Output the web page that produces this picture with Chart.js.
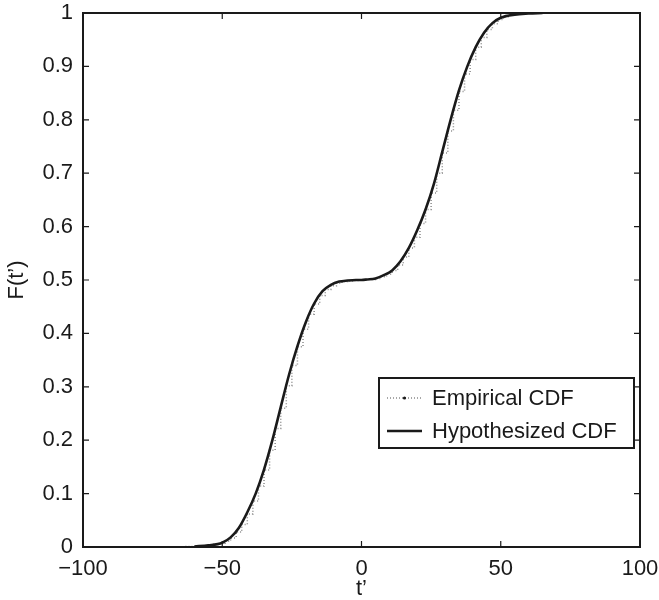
<!DOCTYPE html>
<html><head><meta charset="utf-8">
<script src="https://cdn.jsdelivr.net/npm/chart.js@4"></script>
<style>html,body{margin:0;padding:0;background:#fff}#wrap{width:659px;height:600px}</style>
</head><body><div id="wrap"><canvas id="c" width="659" height="600"></canvas></div>
<script>
// ---- data ----
const hypT = [-60,-55,-50,-47,-44,-41,-38,-35,-32,-29,-26,-23,-20,-17,-14,-11,-8,-5,-2,0,2,5,8,11,14,17,20,23,26,29,32,35,38,41,44,47,50,55,60,65];
const hypF = [0.001,0.003,0.008,0.018,0.036,0.065,0.100,0.145,0.200,0.262,0.323,0.376,0.421,0.456,0.479,0.491,0.497,0.499,0.500,0.500,0.501,0.503,0.509,0.518,0.535,0.560,0.593,0.632,0.680,0.740,0.800,0.855,0.900,0.936,0.963,0.981,0.991,0.997,0.999,1.000];
const empT = [-77,-75,-73,-71,-69,-67,-65,-63,-61,-59,-57,-55,-53,-51,-49,-47,-45,-43,-41,-39,-37,-35,-33,-31,-29,-27,-25,-23,-21,-19,-17,-15,-13,-11,-9,-7,-5,-3,-1,1,3,5,7,9,11,13,15,17,19,21,23,25,27,29,31,33,35,37,39,41,43,45,47,49,51,53,55,57,59,61,63,65,67,69];
const empF = [0,0,0,0,0,0,0,0.001,0.001,0.001,0.002,0.003,0.005,0.007,0.011,0.017,0.028,0.042,0.062,0.086,0.114,0.144,0.181,0.222,0.260,0.302,0.340,0.375,0.408,0.436,0.455,0.471,0.482,0.489,0.494,0.497,0.498,0.499,0.500,0.501,0.501,0.503,0.506,0.511,0.518,0.528,0.543,0.560,0.580,0.606,0.632,0.663,0.700,0.738,0.779,0.818,0.853,0.886,0.913,0.936,0.954,0.969,0.980,0.988,0.993,0.996,0.998,0.999,0.999,1,1,1,1,1];
const xTicks = [-100,-50,0,50,100];
const yTicks = [0,0.1,0.2,0.3,0.4,0.5,0.6,0.7,0.8,0.9,1];
const seriesLabels = ['Empirical CDF','Hypothesized CDF'];
const xTitle = 't’';
const yTitle = 'F(t’)';

const FONT = '"Liberation Sans", Arial, Helvetica, sans-serif';
const INK = '#1a1a1a';

const toPts = (xs, ys) => xs.map((x, i) => ({x: x, y: ys[i]}));

const framePlugin = {
  id: 'frame',
  afterDraw(chart) {
    const ctx = chart.ctx;
    const a = chart.chartArea;
    const xs = chart.scales.x, ys = chart.scales.y;
    ctx.save();
    ctx.strokeStyle = INK;
    ctx.lineWidth = 2;
    ctx.strokeRect(a.left, a.top, a.right - a.left, a.bottom - a.top);
    ctx.lineWidth = 1.2;
    const tl = 6;
    ctx.beginPath();
    xTicks.forEach(v => {
      const px = xs.getPixelForValue(v);
      ctx.moveTo(px, a.bottom); ctx.lineTo(px, a.bottom - tl);
      ctx.moveTo(px, a.top); ctx.lineTo(px, a.top + tl);
    });
    yTicks.forEach(v => {
      const py = ys.getPixelForValue(v);
      ctx.moveTo(a.left, py); ctx.lineTo(a.left + tl, py);
      ctx.moveTo(a.right, py); ctx.lineTo(a.right - tl, py);
    });
    ctx.stroke();

    // legend box
    const bx = 379, by = 378, bw = 255, bh = 70;
    ctx.fillStyle = '#fff';
    ctx.fillRect(bx, by, bw, bh);
    ctx.lineWidth = 2;
    ctx.strokeStyle = INK;
    ctx.strokeRect(bx, by, bw, bh);
    const ds = chart.data.datasets;
    const rows = [398, 431];
    ds.forEach((d, i) => {
      const y = rows[i];
      ctx.save();
      ctx.strokeStyle = d.borderColor;
      ctx.lineWidth = d.borderWidth;
      ctx.setLineDash(d.borderDash || []);
      ctx.beginPath();
      ctx.moveTo(387, y); ctx.lineTo(422, y);
      ctx.stroke();
      if (i === 0) {
        ctx.setLineDash([]);
        ctx.fillStyle = INK;
        ctx.beginPath(); ctx.arc(404.5, y, 1.6, 0, Math.PI * 2); ctx.fill();
      }
      ctx.restore();
      ctx.fillStyle = INK;
      ctx.font = '22px ' + FONT;
      ctx.textBaseline = 'middle';
      ctx.textAlign = 'left';
      ctx.fillText(d.label, 432, y + 1);
    });
    ctx.restore();
  }
};

new Chart(document.getElementById('c'), {
  type: 'scatter',
  data: {
    datasets: [
      {
        label: seriesLabels[0],
        data: toPts(empT, empF),
        showLine: true,
        stepped: 'before',
        borderColor: '#8a8a8a',
        borderWidth: 1.5,
        borderDash: [1, 2],
        pointRadius: 0,
        fill: false,
        order: 2
      },
      {
        label: seriesLabels[1],
        data: toPts(hypT, hypF),
        showLine: true,
        cubicInterpolationMode: 'monotone',
        borderColor: INK,
        borderWidth: 2.6,
        pointRadius: 0,
        fill: false,
        order: 1
      }
    ]
  },
  options: {
    responsive: false,
    animation: false,
    devicePixelRatio: 1,
    layout: {padding: {left: 0, right: 19, top: 13, bottom: 0}},
    plugins: {legend: {display: false}, tooltip: {enabled: false}},
    scales: {
      x: {
        type: 'linear', min: -100, max: 100,
        afterBuildTicks: s => { s.ticks = xTicks.map(v => ({value: v})); },
        afterFit: s => { s.height = 53; s.paddingLeft = 0; s.paddingRight = 0; },
        grid: {display: false, drawTicks: false},
        border: {display: false},
        ticks: {
          font: {size: 22, family: FONT}, color: INK, padding: 9,
          maxRotation: 0, autoSkip: false,
          callback: v => v < 0 ? '−' + Math.abs(v) : String(v)
        },
        title: {display: true, text: xTitle, font: {size: 22, family: FONT, lineHeight: 1.0}, color: INK, padding: {top: 0, bottom: 0}}
      },
      y: {
        type: 'linear', min: 0, max: 1,
        afterBuildTicks: s => { s.ticks = yTicks.map(v => ({value: v})); },
        afterFit: s => { s.width = 83; s.paddingTop = 0; s.paddingBottom = 0; },
        grid: {display: false, drawTicks: false},
        border: {display: false},
        ticks: {
          font: {size: 22, family: FONT}, color: INK, padding: 10, autoSkip: false,
          callback: v => (v === 0 || v === 1) ? String(v) : v.toFixed(1)
        },
        title: {display: true, text: yTitle, font: {size: 22, family: FONT, lineHeight: 1.0}, color: INK, padding: {top: 6, bottom: 0}}
      }
    }
  },
  plugins: [framePlugin]
});
</script>
</body></html>
